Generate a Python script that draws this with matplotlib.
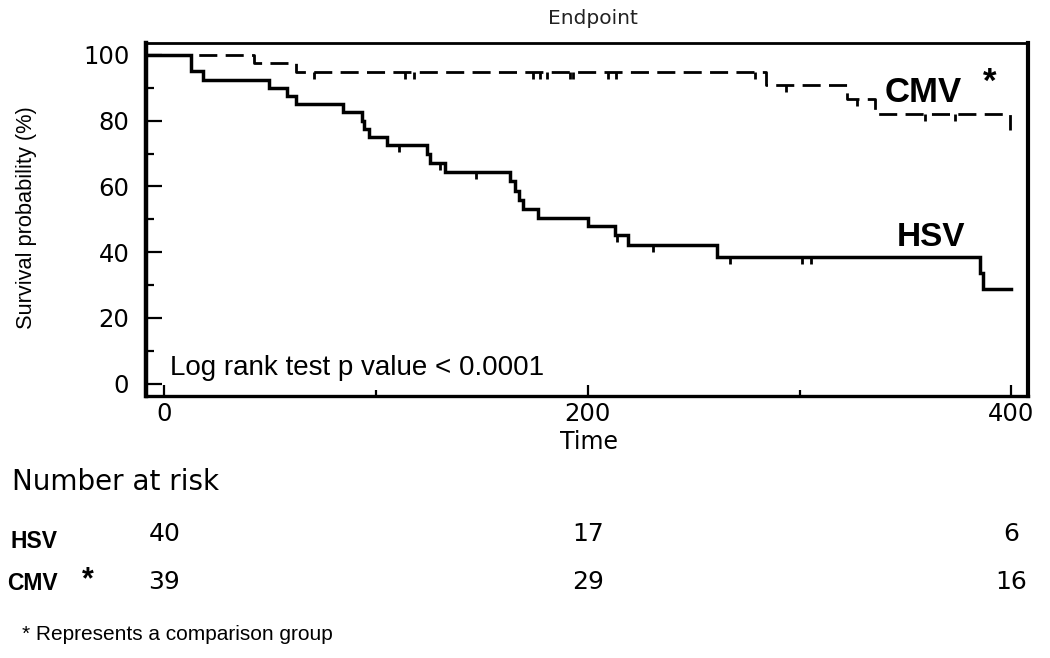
import numpy as np
import matplotlib
matplotlib.use("Agg")
import matplotlib.pyplot as plt
from matplotlib.ticker import MultipleLocator
from matplotlib.transforms import blended_transform_factory

# Kaplan-Meier steps (time, survival %)
hsv_time = [0, 12.7, 18.2, 49.6, 58.2, 62.0, 84.6, 93.4, 94.2, 96.6, 105.2,
            124.1, 125.3, 132.7, 163.3, 165.6, 167.7, 169.3, 176.6, 200.2,
            212.7, 219.0, 261.0, 385.3, 386.8, 399.7]
hsv_surv = [100, 95, 92.5, 90, 87.5, 85, 82.5, 80, 77.5, 75, 72.5,
            69.8, 67.0, 64.3, 61.5, 58.7, 55.9, 53.2, 50.5, 47.8,
            45.1, 42.2, 38.5, 33.7, 28.7, 28.7]
hsv_cens_time = [110.7, 130.0, 147.0, 213.8, 230.7, 267.0, 301.3, 305.3]
hsv_cens_surv = [72.5, 67.0, 64.3, 45.1, 42.2, 38.5, 38.5, 38.5]

cmv_time = [0, 42.5, 62.0, 284.2, 322.5, 335.8, 399.4]
cmv_surv = [100, 97.4, 94.9, 90.8, 86.6, 81.9, 77.0]
cmv_cens_time = [70.8, 113.9, 118.1, 174.0, 177.4, 180.8, 191.5, 193.0,
                 209.6, 213.5, 279.0, 293.4, 327.0, 359.4, 373.5]
cmv_cens_surv = [94.9] * 11 + [90.8, 86.6, 81.9, 81.9]

risk_times = [0, 200, 400]
hsv_risk = [40, 17, 6]
cmv_risk = [39, 29, 16]

W, H = 1050, 658
XMIN, XMAX = -8.6, 407.9


def fx(x):
    return x / W


def fy(y):
    return 1 - y / H


ARIAL = ["Liberation Sans", "DejaVu Sans"]
WIDE = ["DejaVu Sans"]

fig = plt.figure(figsize=(W / 100, H / 100), dpi=100)
ax = fig.add_axes([fx(146), fy(395.5), fx(1028 - 146), (395.5 - 42.7) / H])

# survival curves, drawn from the left edge of the frame
ax.step(np.r_[XMIN, hsv_time], np.r_[hsv_surv[0], hsv_surv], where="post",
        color="black", lw=2.5, solid_joinstyle="miter")
ax.step(np.r_[XMIN, cmv_time], np.r_[cmv_surv[0], cmv_surv], where="post",
        color="black", lw=2.0, linestyle=(0, (6.5, 3)))
ax.plot(hsv_cens_time, hsv_cens_surv, ls="none", marker=3, ms=5, mew=2,
        color="black")
ax.plot(cmv_cens_time, cmv_cens_surv, ls="none", marker=3, ms=5, mew=2,
        color="black")

ax.set_xlim(XMIN, XMAX)
ax.set_ylim(-3.6, 103.7)
ax.xaxis.set_major_locator(MultipleLocator(200))
ax.xaxis.set_minor_locator(MultipleLocator(100))
ax.yaxis.set_major_locator(MultipleLocator(20))
ax.yaxis.set_minor_locator(MultipleLocator(10))
ax.tick_params(axis="y", which="major", direction="in", length=11.5,
               width=1.6, pad=12, labelsize=17.5, labelfontfamily="DejaVu Sans")
ax.tick_params(axis="y", which="minor", direction="in", length=6, width=1.6)
ax.tick_params(axis="x", which="major", direction="in", length=8,
               width=1.6, pad=5, labelsize=17.5, labelfontfamily="DejaVu Sans")
ax.tick_params(axis="x", which="minor", direction="in", length=4, width=1.6)
ax.spines["left"].set_linewidth(3.2)
ax.spines["right"].set_linewidth(3.0)
ax.spines["top"].set_linewidth(2.0)
ax.spines["bottom"].set_linewidth(2.4)

ax.text(2.5, 2.5, "Log rank test p value < 0.0001", family=ARIAL,
        fontsize=20, va="baseline", ha="left")
ax.text(340, 88.5, "CMV", family=ARIAL, fontsize=25, weight="bold",
        va="center", ha="left")
ax.text(390, 91.5, "*", family=ARIAL, fontsize=25, weight="bold",
        va="center", ha="center")
ax.text(346, 44.5, "HSV", family=ARIAL, fontsize=24, weight="bold",
        va="center", ha="left")

fig.text(fx(593), fy(18), "Endpoint", family=WIDE, fontsize=14.5,
         color="#222222", ha="center", va="center")
fig.text(fx(589), fy(442), "Time", family=WIDE, fontsize=17,
         ha="center", va="center")
fig.text(fx(27), fy(218), "Survival probability (%)", family=ARIAL,
         fontsize=15.7, rotation=90, ha="center", va="center")

# number at risk table
fig.text(fx(12), fy(482), "Number at risk", family=WIDE, fontsize=20,
         ha="left", va="center")
fig.text(fx(10), fy(542), "HSV", family=ARIAL, fontsize=16.5, weight="bold",
         ha="left", va="center")
fig.text(fx(7), fy(584), "CMV", family=ARIAL, fontsize=16.5, weight="bold",
         ha="left", va="center")
fig.text(fx(88), fy(580), "*", family=ARIAL, fontsize=22, weight="bold",
         ha="center", va="center")
trans = blended_transform_factory(ax.transData, fig.transFigure)
for t, n in zip(risk_times, hsv_risk):
    ax.text(t, fy(534), str(n), transform=trans, family=WIDE, fontsize=18,
            ha="center", va="center")
for t, n in zip(risk_times, cmv_risk):
    ax.text(t, fy(582), str(n), transform=trans, family=WIDE, fontsize=18,
            ha="center", va="center")

fig.text(fx(22), fy(635), "* Represents a comparison group", family=ARIAL,
         fontsize=15, ha="left", va="center")

fig.savefig("out.png", dpi=100)
